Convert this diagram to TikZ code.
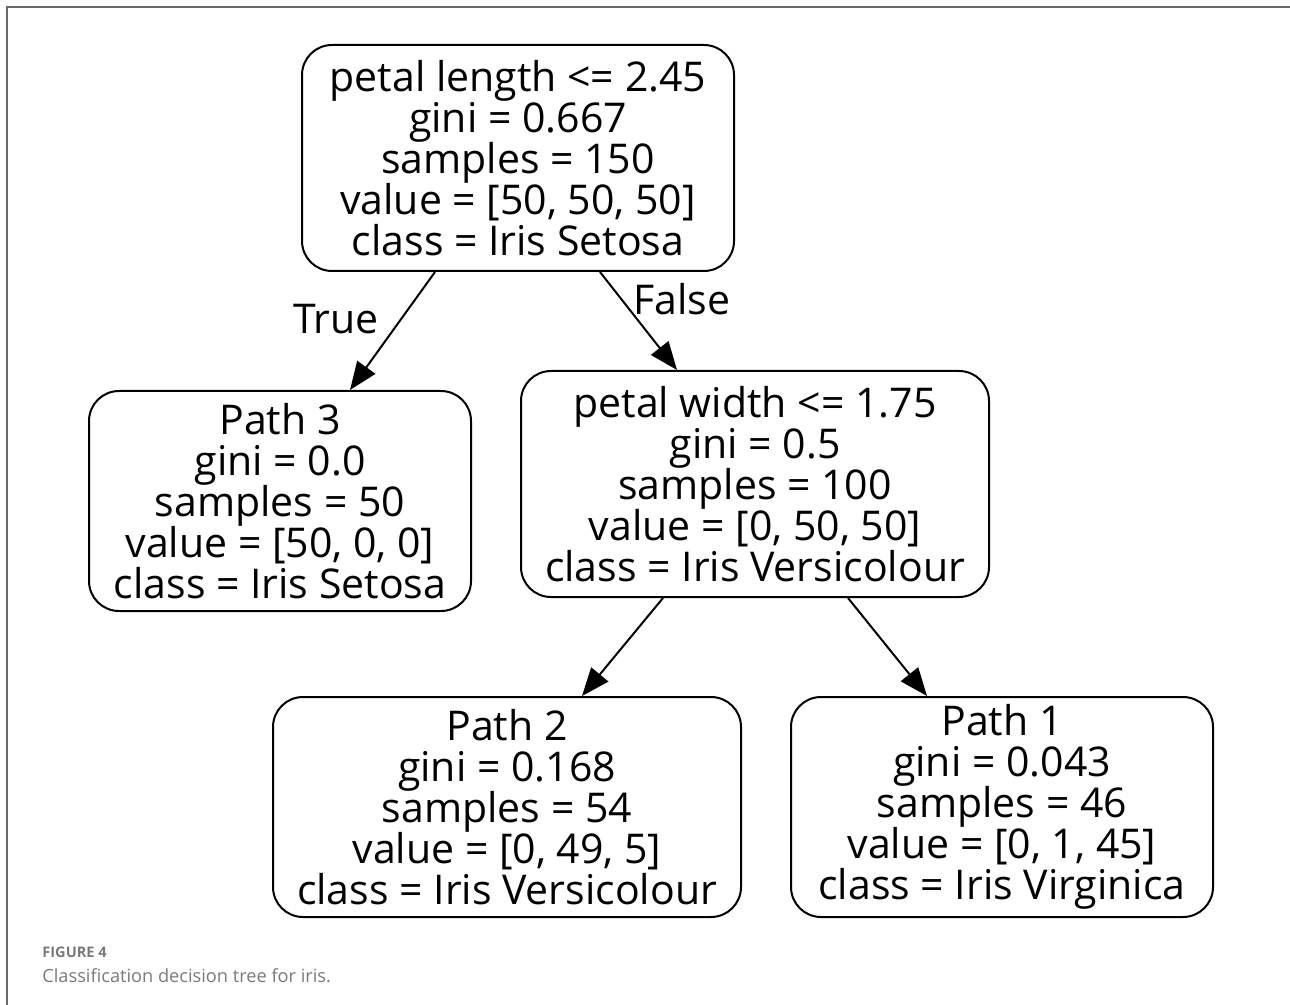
\documentclass[tikz,border=0pt]{standalone}
\usepackage{fontspec}
\setmainfont{Open Sans}
\usepackage{tikz}
\usetikzlibrary{positioning, arrows.meta}
\usepackage{xcolor}
\definecolor{framegray}{HTML}{6A6A6A}
\definecolor{capgray}{HTML}{7A7A7A}

\begin{document}
\begin{tikzpicture}[
    x=0.5pt, y=-0.5pt,
    treenode/.style={rectangle, draw, line width=1pt, rounded corners=15pt,
    minimum height=110pt, align=center, inner sep=0pt,
    font=\fontsize{20.5}{20.5}\selectfont},
    arrow/.style={-{Triangle[length=14pt, width=11pt]}, line width=1pt},
    edgelabel/.style={font=\fontsize{20.5}{20.5}\selectfont}
]
\useasboundingbox (0,0) rectangle (1290,1005);
\draw[framegray, line width=1pt] (7,1005) -- (7,7) -- (1290,7);

\node[treenode, minimum width=216pt, minimum height=113pt] (root) at (518,158)
    {petal length <= 2.45\\gini = 0.667\\samples = 150\\value = [50, 50, 50]\\class = Iris Setosa};
\node[treenode, minimum width=191pt] (path3) at (280,501)
    {Path 3\\gini = 0.0\\samples = 50\\value = [50, 0, 0]\\class = Iris Setosa};
\node[treenode, minimum width=234pt, minimum height=113pt] (width) at (755,484)
    {petal width <= 1.75\\gini = 0.5\\samples = 100\\value = [0, 50, 50]\\class = Iris Versicolour};
\node[treenode, minimum width=234pt] (path2) at (507,807)
    {Path 2\\gini = 0.168\\samples = 54\\value = [0, 49, 5]\\class = Iris Versicolour};
\node[treenode, minimum width=211pt] (path1) at (1002,807)
    {Path 1\\gini = 0.043\\samples = 46\\value = [0, 1, 45]\\class = Iris Virginica};

\draw[arrow] ([xshift=-41.5pt]root.south) -- ([xshift=35pt]path3.north);
\draw[arrow] ([xshift=41pt]root.south) -- ([xshift=-39pt]width.north);
\draw[arrow] ([xshift=-46pt]width.south) -- ([xshift=37.5pt]path2.north);
\draw[arrow] ([xshift=46.5pt]width.south) -- ([xshift=-37.5pt]path1.north);

\node[edgelabel] (truelbl) at (336,319) {True};
\node[edgelabel] (falselbl) at (682,299) {False};

\node[anchor=west, text=capgray, inner sep=0pt, font=\fontsize{7.3}{8}\selectfont\bfseries] (fig) at (42,952) {FIGURE 4};
\node[anchor=west, text=capgray, inner sep=0pt, font=\fontsize{9.1}{10}\selectfont] (caption) at (42,976) {Classification decision tree for iris.};
\end{tikzpicture}
\end{document}
